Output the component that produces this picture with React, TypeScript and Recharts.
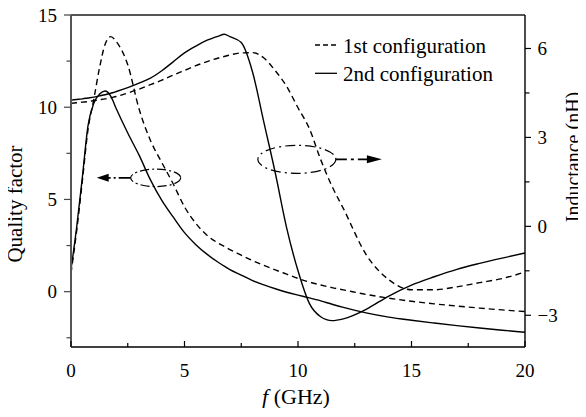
import { LineChart, Line, XAxis, YAxis, ReferenceLine, ReferenceDot } from "recharts";

const freq = [0, 0.25, 0.5, 0.75, 1, 1.25, 1.5, 1.75, 2, 2.5, 3, 3.5, 4, 4.5, 5, 5.5, 6, 6.5, 6.75, 7, 7.5, 8, 8.5, 9, 9.5, 10, 10.5, 11, 11.5, 12, 13, 14, 15, 16, 17, 18, 19, 20];

// quality factor (left axis)
const qFirst = [1.0, 3.3, 6.0, 8.8, 10.4, 12.1, 13.4, 13.83, 13.55, 12.3, 9.9, 8.2, 7.0, 5.85, 4.6, 3.7, 3.05, 2.62, 2.45, 2.28, 1.98, 1.68, 1.42, 1.18, 0.95, 0.72, 0.52, 0.36, 0.22, 0.1, -0.15, -0.35, -0.52, -0.66, -0.78, -0.89, -0.99, -1.08];
const qSecond = [1.2, 3.5, 6.2, 9.0, 10.2, 10.7, 10.88, 10.6, 9.9, 8.6, 7.4, 6.06, 4.95, 4.05, 3.2, 2.55, 2.02, 1.58, 1.38, 1.2, 0.9, 0.6, 0.37, 0.16, -0.03, -0.19, -0.34, -0.5, -0.68, -0.85, -1.15, -1.38, -1.55, -1.7, -1.84, -1.97, -2.09, -2.2];

// inductance in nH (right axis)
const lFirst = [4.15, 4.17, 4.19, 4.21, 4.24, 4.27, 4.3, 4.34, 4.38, 4.5, 4.63, 4.78, 4.93, 5.1, 5.26, 5.42, 5.56, 5.68, 5.73, 5.78, 5.85, 5.86, 5.68, 5.25, 4.72, 4.0, 3.3, 2.25, 1.35, 0.6, -0.95, -1.8, -2.14, -2.14, -2.04, -1.9, -1.76, -1.54];
const lSecond = [4.26, 4.28, 4.3, 4.33, 4.36, 4.4, 4.44, 4.49, 4.55, 4.68, 4.83, 5.0, 5.25, 5.55, 5.85, 6.08, 6.28, 6.42, 6.48, 6.4, 6.2, 5.2, 3.5, 1.8, -0.05, -1.5, -2.6, -3.05, -3.18, -3.12, -2.8, -2.35, -1.98, -1.7, -1.45, -1.25, -1.07, -0.9];

const fTicks = [0, 2.5, 5, 7.5, 10, 12.5, 15, 17.5, 20];
const qTicks = [-2.5, 0, 2.5, 5, 7.5, 10, 12.5, 15];
const lTicks = [-3, -1.5, 0, 1.5, 3, 4.5, 6];

// where the dash-dot ellipses sit, in data units
const qMarker = { f: 3.73, q: 6.17 };
const lMarker = { f: 9.95, l: 2.26 };

const rows = freq.map((f, i) => ({
  f,
  qFirst: qFirst[i],
  qSecond: qSecond[i],
  lFirst: lFirst[i],
  lSecond: lSecond[i],
}));

const FONT = "'Liberation Serif', Tinos, 'Times New Roman', 'DejaVu Serif', serif";

function BottomTick(props: any) {
  const { x, y, payload } = props;
  const v = payload.value;
  const major = v % 5 === 0;
  return (
    <g>
      <line x1={x} x2={x} y1={y} y2={y - (major ? 6 : 4)} stroke="#000" strokeWidth={1.2} />
      {major && (
        <text x={x} y={y + 30} textAnchor="middle" fill="#000" style={{ fontFamily: FONT, fontSize: 19 }}>
          {v}
        </text>
      )}
    </g>
  );
}

function LeftTick(props: any) {
  const { x, y, payload } = props;
  const v = payload.value;
  const major = v % 5 === 0;
  return (
    <g>
      <line x1={x} x2={x - (major ? 7 : 4.5)} y1={y} y2={y} stroke="#444" strokeWidth={1.2} />
      {major && (
        <text x={x - 14} y={y} dy="0.35em" textAnchor="end" fill="#000" style={{ fontFamily: FONT, fontSize: 19 }}>
          {v}
        </text>
      )}
    </g>
  );
}

function RightTick(props: any) {
  const { x, y, payload } = props;
  const v = payload.value;
  const major = v % 3 === 0;
  return (
    <g>
      <line x1={x} x2={x + (major ? 6 : 4.5)} y1={y} y2={y} stroke="#000" strokeWidth={1.2} />
      {major && (
        <text x={x + 12.5} y={y} dy="0.35em" textAnchor="start" fill="#000" style={{ fontFamily: FONT, fontSize: 19 }}>
          {v < 0 ? "\u2212" + Math.abs(v) : v}
        </text>
      )}
    </g>
  );
}

function LeftMarker(props: any) {
  const { cx, cy } = props;
  return (
    <g fill="none" stroke="#000" strokeWidth={1.2}>
      <ellipse cx={cx} cy={cy} rx={25} ry={8.7} strokeDasharray="9 3 2 3" />
      <line x1={cx - 25} y1={cy} x2={cx - 48} y2={cy} strokeDasharray="12 3 2 3" strokeWidth={1.6} />
      <polygon points={`${cx - 59},${cy} ${cx - 47},${cy - 4} ${cx - 47},${cy + 4}`} fill="#000" stroke="none" />
    </g>
  );
}

function RightMarker(props: any) {
  const { cx, cy } = props;
  return (
    <g fill="none" stroke="#000" strokeWidth={1.2}>
      <ellipse cx={cx} cy={cy} rx={39} ry={14} strokeDasharray="10 4 2 4" />
      <line x1={cx + 39} y1={cy} x2={cx + 71} y2={cy} strokeDasharray="11 4 3 4" strokeWidth={1.6} />
      <polygon points={`${cx + 85},${cy} ${cx + 70},${cy - 4} ${cx + 70},${cy + 4}`} fill="#000" stroke="none" />
    </g>
  );
}

export default function App() {
  return (
    <div style={{ position: "relative", width: 578, height: 408, marginTop: -8, fontFamily: FONT }}>
      <LineChart width={578} height={408} data={rows} margin={{ top: 15, right: 0, bottom: 0, left: 0 }}>
        <XAxis
          dataKey="f"
          type="number"
          domain={[0, 20]}
          ticks={fTicks}
          interval={0}
          tick={<BottomTick />}
          tickLine={false}
          tickSize={0}
          tickMargin={0}
          axisLine={{ stroke: "#000", strokeWidth: 1.4 }}
          height={61}
        />
        <YAxis
          yAxisId="q"
          type="number"
          domain={[-3, 15]}
          ticks={qTicks}
          interval={0}
          tick={<LeftTick />}
          tickLine={false}
          tickSize={0}
          tickMargin={0}
          axisLine={{ stroke: "#555", strokeWidth: 2 }}
          width={63}
        />
        <YAxis
          yAxisId="l"
          orientation="right"
          type="number"
          domain={[-4.07, 7.13]}
          ticks={lTicks}
          interval={0}
          tick={<RightTick />}
          tickLine={false}
          tickSize={0}
          tickMargin={0}
          axisLine={{ stroke: "#000", strokeWidth: 1.4 }}
          width={61}
        />
        <ReferenceLine yAxisId="q" y={15} stroke="#555" strokeWidth={2} />
        <Line yAxisId="q" dataKey="qFirst" type="monotone" stroke="#000" strokeWidth={1.4} strokeDasharray="6 4" dot={false} isAnimationActive={false} />
        <Line yAxisId="q" dataKey="qSecond" type="monotone" stroke="#000" strokeWidth={1.4} dot={false} isAnimationActive={false} />
        <Line yAxisId="l" dataKey="lFirst" type="monotone" stroke="#000" strokeWidth={1.4} strokeDasharray="6 4" dot={false} isAnimationActive={false} />
        <Line yAxisId="l" dataKey="lSecond" type="monotone" stroke="#000" strokeWidth={1.4} dot={false} isAnimationActive={false} />
        <ReferenceDot yAxisId="q" x={qMarker.f} y={qMarker.q} r={0} shape={LeftMarker} />
        <ReferenceDot yAxisId="l" x={lMarker.f} y={lMarker.l} r={0} shape={RightMarker} />
      </LineChart>
      <svg
        width={578}
        height={408}
        style={{ position: "absolute", left: 0, top: 0, pointerEvents: "none", overflow: "visible", fontFamily: FONT }}
      >
        <line x1={307} x2={329} y1={45} y2={45} stroke="#000" strokeWidth={1.3} strokeDasharray="5 3" />
        <text x={335} y={52.5} fill="#000" style={{ fontSize: 21 }}>1st configuration</text>
        <line x1={307} x2={329} y1={73.3} y2={73.3} stroke="#000" strokeWidth={1.3} />
        <text x={335} y={81} fill="#000" style={{ fontSize: 21 }}>2nd configuration</text>
        <text x={14} y={204} transform="rotate(-90 14 204)" textAnchor="middle" fill="#000" style={{ fontSize: 21 }}>
          Quality factor
        </text>
        <text x={572} y={157} transform="rotate(-90 572 157)" textAnchor="middle" fill="#000" style={{ fontSize: 20 }}>
          Inductance (nH)
        </text>
        <text x={288} y={404} textAnchor="middle" fill="#000" style={{ fontSize: 22 }}>
          <tspan fontStyle="italic">f</tspan> (GHz)
        </text>
      </svg>
    </div>
  );
}
